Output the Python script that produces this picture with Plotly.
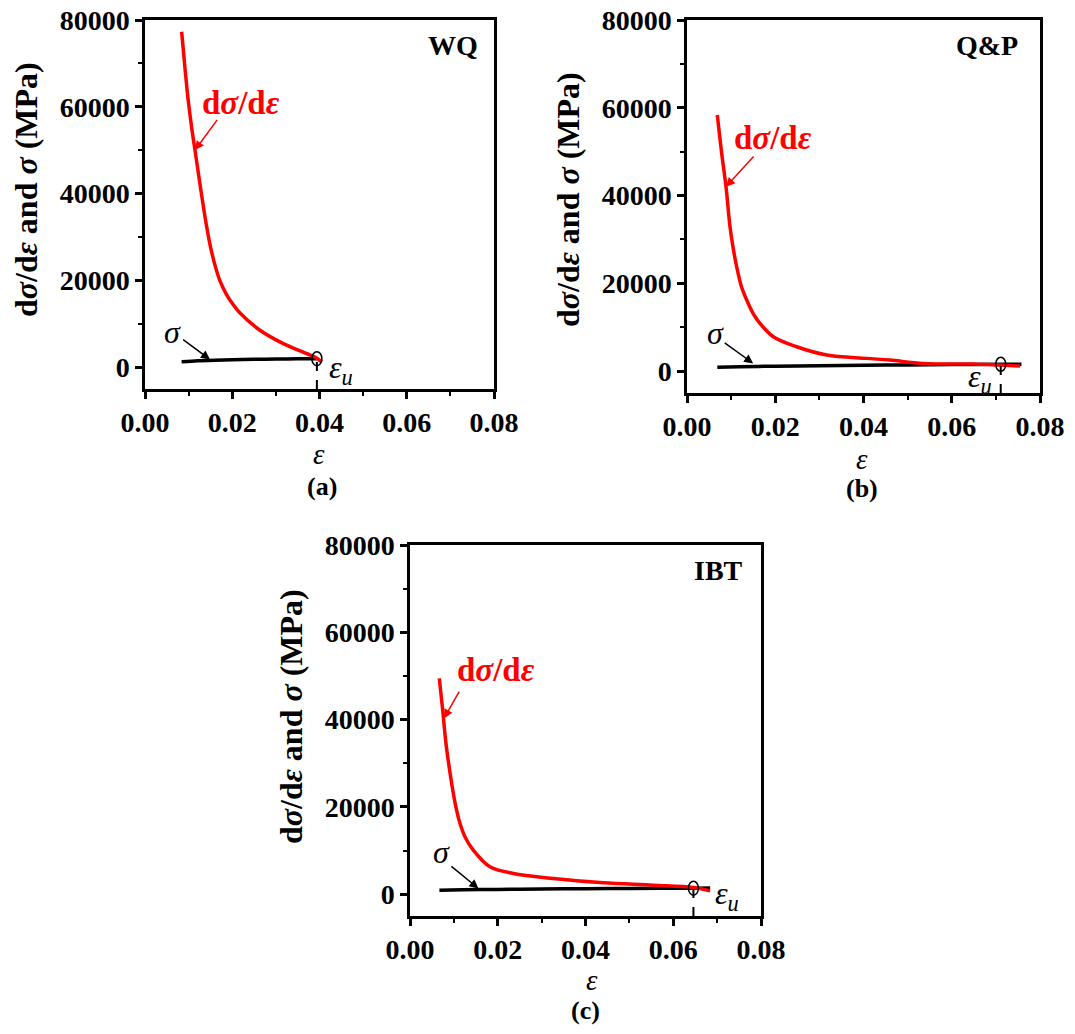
import plotly.graph_objects as go

W, H = 1075, 1034          # browser window
OFF = 8                    # page body margin of the browser
FW, FH = W - 2 * OFF, H - 2 * OFF   # figure size so that it fits inside the window
FONT = "Liberation Serif"
RED = "#FF0000"

# ---------------- data ----------------
# (a) WQ
wq_rate_strain = [0.0084, 0.0092, 0.0099, 0.0108, 0.01146, 0.0126, 0.0141, 0.0150, 0.01605,
                  0.01719, 0.01872, 0.02024, 0.02178, 0.02636, 0.0317, 0.0371, 0.0394, 0.0405]
wq_rate = [77300, 68500, 61550, 54500, 50030, 42200, 32600, 27800, 23500,
           19900, 16700, 14400, 12500, 8530, 5460, 3160, 2100, 1200]
wq_sig_strain = [0.0084, 0.012, 0.016, 0.020, 0.025, 0.030, 0.035, 0.0394]
wq_sigma = [1250, 1500, 1640, 1740, 1830, 1890, 1940, 1980]
wq_eps_u, wq_sig_u = 0.0394, 1980

# (b) Q&P
qp_rate_strain = [0.00687, 0.00786, 0.00884, 0.00975, 0.0105, 0.01126, 0.0123, 0.01353, 0.0150,
                  0.01654, 0.01956, 0.02486, 0.03166, 0.04072, 0.046, 0.05355, 0.0649, 0.0709, 0.0755]
qp_rate = [58340, 49600, 42000, 32900, 27800, 23770, 19400, 16180, 13100,
           10870, 7820, 5540, 3650, 2890, 2500, 1750, 1600, 1370, 1140]
qp_sig_strain = [0.00687, 0.012, 0.020, 0.030, 0.040, 0.050, 0.060, 0.0711, 0.0758]
qp_sigma = [850, 1000, 1120, 1230, 1320, 1400, 1480, 1550, 1560]
qp_eps_u, qp_sig_u = 0.0711, 1550

# (c) IBT
ibt_rate_strain = [0.00668, 0.00745, 0.0082, 0.0095, 0.0104, 0.0114, 0.0127, 0.01443, 0.01823,
                   0.02355, 0.03267, 0.04406, 0.05546, 0.0646, 0.0684]
ibt_rate = [49430, 42170, 34540, 25370, 20300, 16200, 12800, 10090, 6260,
            4740, 3590, 2600, 2060, 1530, 760]
ibt_sig_strain = [0.0067, 0.012, 0.020, 0.030, 0.040, 0.050, 0.0646, 0.0684]
ibt_sigma = [900, 1000, 1100, 1180, 1250, 1310, 1380, 1400]
ibt_eps_u, ibt_sig_u = 0.0646, 1380

names = ["WQ", "Q&P", "IBT"]
letters = ["(a)", "(b)", "(c)"]
x_ticks = [0.00, 0.02, 0.04, 0.06, 0.08]
y_ticks = [0, 20000, 40000, 60000, 80000]
x_range = [0, 0.08]
y_range = [-5000, 80000]

panels = [
    dict(rs=wq_rate_strain, r=wq_rate, ss=wq_sig_strain, s=wq_sigma, eu=wq_eps_u, su=wq_sig_u),
    dict(rs=qp_rate_strain, r=qp_rate, ss=qp_sig_strain, s=qp_sigma, eu=qp_eps_u, su=qp_sig_u),
    dict(rs=ibt_rate_strain, r=ibt_rate, ss=ibt_sig_strain, s=ibt_sigma, eu=ibt_eps_u, su=ibt_sig_u),
]

# ---------------- layout geometry (window pixels) ----------------
boxes = [  # left, right, top, bottom
    (145, 494, 20, 389),
    (687, 1040, 20, 393),
    (410, 761, 545, 916),
]


def px(x):
    return (x - OFF) / FW


def py(y):
    return 1 - (y - OFF) / FH


fig = go.Figure()
layout = dict(width=FW, height=FH, autosize=False,
              margin=dict(l=0, r=0, t=0, b=0, pad=0, autoexpand=False),
              paper_bgcolor="white", plot_bgcolor="white", showlegend=False,
              font=dict(family=FONT, color="black"))

annotations = []
shapes = []

for i, (p, box) in enumerate(zip(panels, boxes)):
    k = "" if i == 0 else str(i + 1)
    xa, ya = "x" + k, "y" + k
    l, r, t, b = box
    common = dict(showline=True, linecolor="black", linewidth=2.5, mirror=True,
                  ticks="outside", ticklen=7, tickwidth=2.5, tickcolor="black",
                  showgrid=False, zeroline=False, automargin=False,
                  ticklabeloverflow="allow",
                  tickfont=dict(family=FONT, size=28, color="black", weight="bold"))
    layout["xaxis" + k] = dict(common, domain=[px(l), px(r)], anchor=ya, range=x_range,
                               tickvals=x_ticks, tickformat=".2f",
                               minor=dict(ticks="outside", ticklen=4, tickwidth=2,
                                          tickcolor="black", dtick=0.01, tick0=0))
    layout["yaxis" + k] = dict(common, domain=[py(b), py(t)], anchor=xa, range=y_range,
                               tickvals=y_ticks, tickformat="d",
                               minor=dict(ticks="outside", ticklen=4, tickwidth=2,
                                          tickcolor="black", dtick=10000, tick0=0))

    fig.add_trace(go.Scatter(x=p["ss"], y=p["s"], mode="lines", xaxis=xa, yaxis=ya,
                             line=dict(color="black", width=3.5, shape="spline", smoothing=0.6)))
    fig.add_trace(go.Scatter(x=p["rs"], y=p["r"], mode="lines", xaxis=xa, yaxis=ya,
                             line=dict(color=RED, width=3.5, shape="spline", smoothing=1.0)))

    # dashed drop line and circle at eps_u
    shapes.append(dict(type="line", xref=xa, yref=ya, x0=p["eu"], x1=p["eu"],
                       y0=y_range[0], y1=p["su"], layer="above",
                       line=dict(color="black", width=2, dash="dash")))
    shapes.append(dict(type="circle", xref=xa, yref=ya, xsizemode="pixel", ysizemode="pixel",
                       xanchor=p["eu"], yanchor=p["su"], x0=-5, x1=5, y0=-7, y1=7,
                       line=dict(color="black", width=1.5), fillcolor="rgba(0,0,0,0)"))

# in-plot labels (axis coords)
label_pos = [
    dict(rate_txt=(0.0220, 60860), rate_tail=(0.0168, 57340), rate_head=(0.01146, 50030),
         sig_txt=(0.0064, 8070), sig_tail=(0.0084, 6620), sig_head=(0.0149, 1780),
         name=(0.0706, 74240), eu=(0.0450, -600)),
    dict(rate_txt=(0.0194, 53100), rate_tail=(0.0154, 49230), rate_head=(0.00884, 42000),
         sig_txt=(0.0064, 8660), sig_tail=(0.0082, 6680), sig_head=(0.0150, 1750),
         name=(0.0679, 74300), eu=(0.0664, -1600)),
    dict(rate_txt=(0.0196, 51350), rate_tail=(0.0114, 46760), rate_head=(0.00775, 40270),
         sig_txt=(0.0072, 9700), sig_tail=(0.0091, 6650), sig_head=(0.0156, 1310),
         name=(0.0703, 74270), eu=(0.0722, -300)),
]

for i, lp in enumerate(label_pos):
    k = "" if i == 0 else str(i + 1)
    xa, ya = "x" + k, "y" + k
    annotations.append(dict(xref=xa, yref=ya, x=lp["rate_txt"][0], y=lp["rate_txt"][1],
                            text="<b>d<i>σ</i>/d<i>ε</i></b>", showarrow=False,
                            xanchor="center", yanchor="middle",
                            font=dict(family=FONT, size=33, color=RED)))
    annotations.append(dict(xref=xa, yref=ya, x=lp["rate_head"][0], y=lp["rate_head"][1],
                            axref=xa, ayref=ya, ax=lp["rate_tail"][0], ay=lp["rate_tail"][1],
                            text="", showarrow=True, arrowhead=2, arrowsize=1.2,
                            arrowwidth=1.5, arrowcolor=RED))
    annotations.append(dict(xref=xa, yref=ya, x=lp["sig_txt"][0], y=lp["sig_txt"][1],
                            text="<i>σ</i>", showarrow=False,
                            xanchor="center", yanchor="middle",
                            font=dict(family=FONT, size=32, color="black")))
    annotations.append(dict(xref=xa, yref=ya, x=lp["sig_head"][0], y=lp["sig_head"][1],
                            axref=xa, ayref=ya, ax=lp["sig_tail"][0], ay=lp["sig_tail"][1],
                            text="", showarrow=True, arrowhead=2, arrowsize=1.2,
                            arrowwidth=1.5, arrowcolor="black"))
    annotations.append(dict(xref=xa, yref=ya, x=lp["name"][0], y=lp["name"][1],
                            text="<b>%s</b>" % names[i].replace("&", "&amp;"), showarrow=False,
                            xanchor="center", yanchor="middle",
                            font=dict(family=FONT, size=28, color="black")))
    annotations.append(dict(xref=xa, yref=ya, x=lp["eu"][0], y=lp["eu"][1],
                            text="<i>ε<sub>u</sub></i>", showarrow=False,
                            xanchor="center", yanchor="middle",
                            font=dict(family=FONT, size=32, color="black")))

# axis titles and panel letters (paper coords, from window pixel positions)
ytitle = "<b>d<i>σ</i>/d<i>ε</i> and <i>σ</i> (MPa)</b>"
ytitle_pos = [(26, 190), (568, 200), (291, 717)]
xtitle_pos = [(319, 454), (862, 459), (592, 980)]
letter_pos = [(322, 486), (862, 488), (585, 1010)]
for i in range(3):
    annotations.append(dict(xref="paper", yref="paper", x=px(ytitle_pos[i][0]), y=py(ytitle_pos[i][1]),
                            text=ytitle, textangle=-90, showarrow=False,
                            xanchor="center", yanchor="middle",
                            font=dict(family=FONT, size=32, color="black")))
    annotations.append(dict(xref="paper", yref="paper", x=px(xtitle_pos[i][0]), y=py(xtitle_pos[i][1]),
                            text="<i>ε</i>", showarrow=False,
                            xanchor="center", yanchor="middle",
                            font=dict(family=FONT, size=29, color="black")))
    annotations.append(dict(xref="paper", yref="paper", x=px(letter_pos[i][0]), y=py(letter_pos[i][1]),
                            text="<b>%s</b>" % letters[i], showarrow=False,
                            xanchor="center", yanchor="middle",
                            font=dict(family=FONT, size=26, color="black")))

layout["annotations"] = annotations
layout["shapes"] = shapes
fig.update_layout(**layout)
fig.write_html("out.html")
